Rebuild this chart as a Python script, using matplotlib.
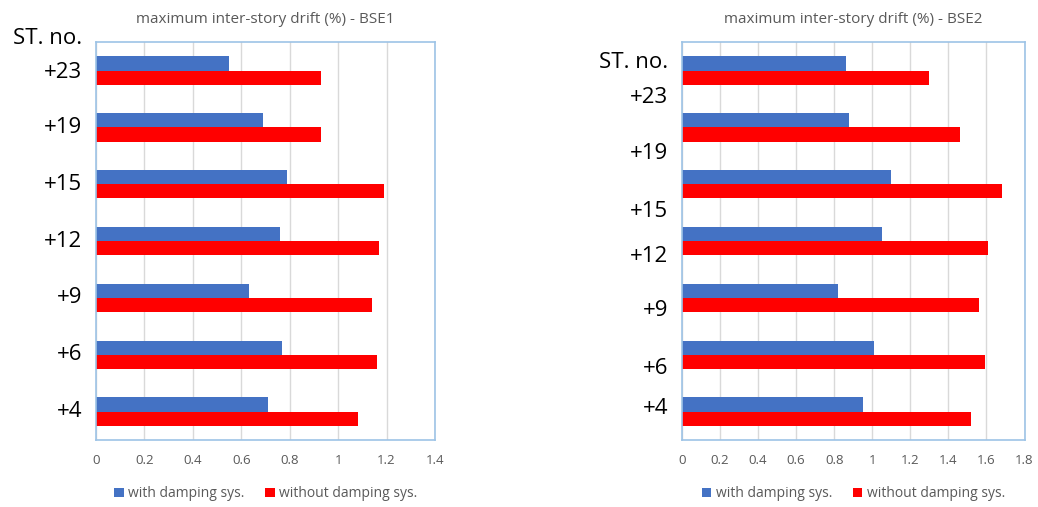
import numpy as np
import matplotlib.pyplot as plt
import matplotlib.transforms as mtransforms

# Datos
stories = ['+23', '+19', '+15', '+12', '+9', '+6', '+4']
bse1_with = [0.55, 0.69, 0.79, 0.76, 0.63, 0.77, 0.71]
bse1_without = [0.93, 0.93, 1.19, 1.17, 1.14, 1.16, 1.08]
bse2_with = [0.86, 0.88, 1.10, 1.05, 0.82, 1.01, 0.95]
bse2_without = [1.30, 1.46, 1.68, 1.61, 1.56, 1.59, 1.52]
titles = ['maximum inter-story drift (%) - BSE1', 'maximum inter-story drift (%) - BSE2']
xmax = [1.4, 1.8]

blue = '#4472C4'
red = '#FF0000'
grey = '#595959'
plt.rcParams['font.family'] = ['Open Sans', 'DejaVu Sans']

fig = plt.figure(figsize=(10.38, 5.07), dpi=100)
ax1 = fig.add_axes([0.0925, 0.132, 0.3266, 0.785])
ax2 = fig.add_axes([0.657, 0.132, 0.330, 0.785])

def draw(ax, with_vals, without_vals, title, top, label_shift):
    y = np.arange(len(stories))[::-1]
    h = 0.25
    ax.barh(y + h / 2, with_vals, height=h, color=blue, label='with damping sys.')
    ax.barh(y - h / 2, without_vals, height=h, color=red, label='without damping sys.')
    ax.set_ylim(-0.5, len(stories) - 0.5)
    ax.set_xlim(0, top)
    ticks = np.arange(0, top + 0.01, 0.2)
    ax.set_xticks(ticks)
    ax.set_xticklabels(['%g' % round(v, 1) for v in ticks])
    ax.tick_params(axis='x', length=0, labelsize=9.5, labelcolor=grey, pad=10)
    ax.set_yticks([])
    ax.grid(axis='x', color='#D9D9D9', linewidth=1)
    ax.set_axisbelow(True)
    for s in ax.spines.values():
        s.set_color('#9DC3E6')
        s.set_linewidth(1.2)
    ax.set_title(title, fontsize=11, color=grey, pad=14)
    # etiquetas de piso
    for yi, lab, dy in zip(y, stories, label_shift):
        off = mtransforms.ScaledTranslation(-14 / 100, -dy / 100, fig.dpi_scale_trans)
        ax.text(0, yi, lab, transform=ax.transData + off, ha='right', va='center',
                fontsize=16, color='black')
    ax.legend(loc='center', bbox_to_anchor=(0.5, -0.135), ncol=2, frameon=False,
              fontsize=10, labelcolor=grey, handlelength=0.7, handleheight=0.7,
              columnspacing=1.5, handletextpad=0.3)

draw(ax1, bse1_with, bse1_without, titles[0], xmax[0], [2, 0, 0, 0, 0, 0, 0])
draw(ax2, bse2_with, bse2_without, titles[1], xmax[1], [27, 26, 27, 15, 13, 14, -3])

ax1.text(0, 6.5, 'ST. no.', transform=ax1.transData + mtransforms.ScaledTranslation(-14 / 100, 4 / 100, fig.dpi_scale_trans),
         ha='right', va='center', fontsize=16, color='black')
ax2.text(0, 6, 'ST. no.', transform=ax2.transData + mtransforms.ScaledTranslation(-14 / 100, 8 / 100, fig.dpi_scale_trans),
         ha='right', va='center', fontsize=16, color='black')

fig.savefig('out.png', dpi=100)
